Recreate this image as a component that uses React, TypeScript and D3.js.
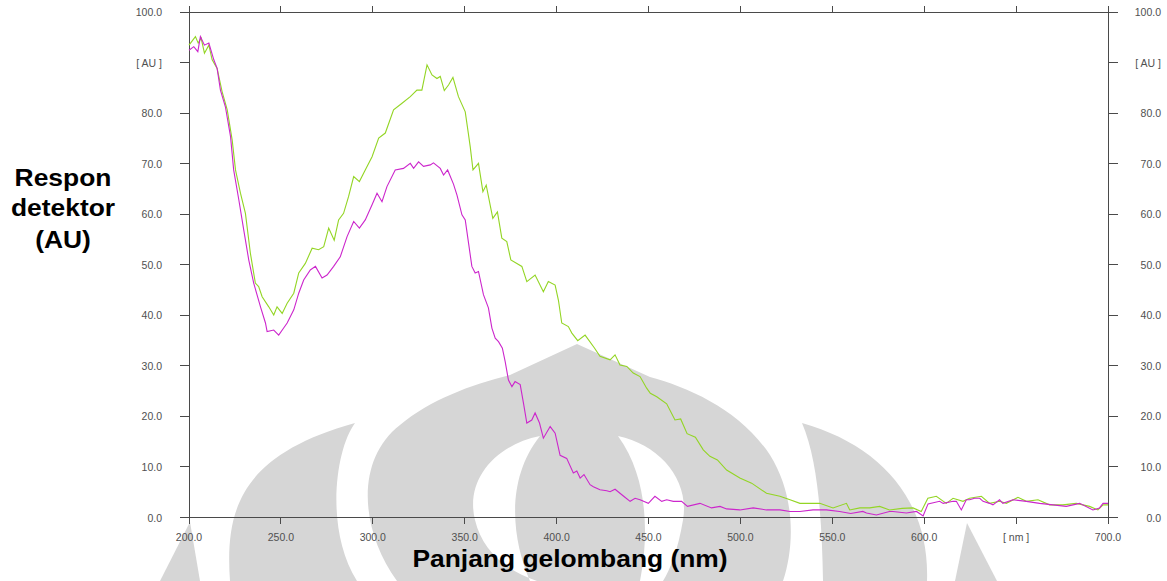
import React, { useRef, useEffect } from "react";
import * as d3 from "d3";

// wavelength (nm) vs detector response (AU)
const limeSeries: [number, number][] = [
  [200, 93.5], [203.5, 95.2], [205, 93.9], [206.6, 94.9], [208.4, 91.9], [210.8, 93.5],
  [212.6, 90.6], [215.3, 88.9], [218, 84.3], [220.8, 80.7], [223.5, 74.7], [225.3, 68.8],
  [228, 64.2], [230.7, 60.2], [233.4, 52.3], [236.1, 46.4], [237.9, 45.7], [239.8, 43.7],
  [243.4, 41.7], [246.1, 40.1], [247.9, 41.7], [250.7, 40.4], [253.4, 42.4], [257, 44.4],
  [259.7, 48.4], [263.3, 50.3], [267, 53.3], [270.5, 53.0], [273.3, 53.6], [276, 57.3],
  [279, 54.9], [281.4, 58.9], [284.1, 60.2], [286.8, 63.5], [289.6, 67.5], [292.7, 66.5],
  [295.9, 68.8], [299.6, 71.4], [303.2, 75.1], [306.8, 76.1], [311.3, 80.7], [315.9, 82.0],
  [320.4, 83.3], [324, 84.6], [326.7, 84.6], [329.5, 89.6], [332.2, 87.6], [334.9, 86.9],
  [336.7, 87.3], [338.9, 84.5], [341.2, 85.6], [343.6, 87.1], [346.6, 83.3], [350.3, 80.3],
  [352, 76], [353, 73.4], [354.5, 68.8], [357.5, 70.1], [359.9, 64.5], [361.7, 65.8],
  [365.3, 59.2], [367.8, 60.5], [370.2, 55.3], [372.9, 54.6], [375.1, 51.0], [381.1, 49.7],
  [383.8, 46.7], [388.3, 48.0], [392.8, 44.7], [395.5, 46.7], [399.2, 46.0], [401, 43],
  [402.8, 38.5], [406.4, 37.8], [408.3, 36.5], [411.5, 35], [415.5, 36.1], [420.5, 33.6],
  [423.6, 31.9], [429.1, 31.2], [431.8, 32.2], [434.5, 30.2], [438.2, 29.9], [441.7, 28.6],
  [445.4, 27.9], [449, 25.6], [451, 24.6], [454.5, 23.9], [459.9, 22.5], [464.4, 19.3],
  [467.5, 19.5], [471, 16.6], [475.5, 15.9], [479.8, 13.4], [483.4, 12.1], [487.5, 11.4],
  [492.5, 9.4], [499.7, 7.8], [506.1, 6.8], [514.2, 4.8], [521.5, 4.2], [527, 3.5],
  [532.4, 2.8], [543.2, 2.8], [550.4, 1.9], [557.7, 2.8], [559.5, 1.5], [565, 1.9],
  [570.3, 1.9], [575.8, 2.2], [581.1, 1.5], [588, 1.8], [593.9, 1.9], [598.4, 1.2],
  [602, 3.8], [606.6, 4.2], [612, 2.8], [615.7, 3.8], [621.1, 3.2], [624.7, 3.8],
  [631.1, 4.2], [635.6, 2.8], [641, 3.2], [644.7, 2.8], [651, 4.0], [655.6, 3.2],
  [661.9, 3.5], [668.2, 2.5], [675.4, 2.5], [682.7, 2.8], [690, 2.2], [694.5, 1.5],
  [697.3, 2.5], [700, 2.5],
];

const magentaSeries: [number, number][] = [
  [200, 92.5], [202.6, 93.2], [204.8, 92.2], [206.2, 95.2], [208.4, 93.5], [210.8, 93.9],
  [213.5, 90.6], [215.3, 88.9], [217.1, 84.6], [219.8, 81.3], [222.6, 75.4], [224.3, 68.8],
  [227.1, 62.9], [229.8, 56.9], [232.5, 51.0], [235.2, 46.4], [238.9, 41.7], [241.6, 38.5],
  [242.5, 36.8], [246.1, 37.1], [248.8, 36.1], [251.5, 37.5], [253.4, 38.5], [257, 41.1],
  [259.7, 44.4], [262.4, 47.0], [266, 49.0], [268.8, 49.7], [272.4, 47.4], [275.1, 48.0],
  [278.7, 49.7], [282.3, 51.6], [286, 55.6], [289.6, 58.6], [292.7, 57.3], [295.9, 58.9],
  [299.6, 61.9], [302.3, 64.2], [305, 62.5], [307.7, 65.5], [312.2, 68.8], [316.7, 69.1],
  [320.4, 70.1], [322.2, 69.1], [324.9, 70.4], [327.6, 69.5], [331.3, 69.8], [333, 70.2],
  [336.7, 69.1], [338.5, 67.8], [340.7, 68.8], [343.9, 66], [345.8, 63.8], [348.5, 59.9],
  [350.3, 58.9], [352.1, 54.3], [353.9, 49.7], [355.7, 48.4], [357.5, 48.7], [360.2, 44.1],
  [362.9, 41.5], [364.8, 37.5], [366.6, 35.5], [368.4, 34.8], [370.5, 33.5], [372, 30.9],
  [373.8, 27.2], [375.7, 25.9], [377.4, 26.9], [380.2, 26.3], [382, 22.6], [383.8, 18.7],
  [386.5, 19.3], [388.3, 20.7], [390.7, 18.7], [392.8, 15.7], [396.5, 18.0], [399.2, 16.7],
  [401.9, 12.3], [405.5, 11.7], [409.1, 8.8], [411, 9.2], [412.8, 7.8], [414.9, 8.5],
  [418.2, 6.5], [420, 6.1], [423.6, 5.5], [427.3, 5.3], [429.1, 5.1], [431.8, 5.6],
  [436.5, 4.2], [440, 3.2], [442.7, 3.8], [445.4, 3.5], [449.9, 2.8], [453.5, 4.2],
  [457.2, 3.2], [459.9, 3.5], [463.5, 3.2], [468, 3.2], [471.2, 2.2], [478, 2.8],
  [484.3, 1.9], [488.9, 2.2], [492.5, 1.7], [499.7, 1.5], [507, 1.9], [514.2, 1.5],
  [521.5, 1.5], [527, 1.2], [532.3, 1.2], [539.5, 1.5], [546.8, 1.5], [554, 1.2],
  [560, 0.8], [566.6, 1.2], [568.6, 0.9], [574, 0.5], [581.1, 1.2], [583, 1.2],
  [590.3, 0.9], [595.8, 1.2], [599.4, 0.3], [602.1, 2.7], [608.4, 3.2], [610.3, 2.8],
  [615.7, 3.2], [617.5, 3.2], [620.2, 1.5], [622.9, 3.5], [624.7, 3.5], [627.4, 3.8],
  [630.2, 3.8], [632, 3.2], [635.6, 2.8], [637.4, 2.5], [641, 3.5], [642.8, 2.8],
  [648.3, 3.5], [655.6, 3.2], [662.8, 2.8], [670.1, 2.5], [677.3, 2.2], [684.6, 2.8],
  [691.8, 1.5], [695.4, 1.9], [697.3, 2.8], [700, 2.8],
];

const xTicks = [200, 250, 300, 350, 400, 450, 500, 550, 600, 650, 700];
const xTickLabels = ["200.0", "250.0", "300.0", "350.0", "400.0", "450.0", "500.0", "550.0", "600.0", "[ nm ]", "700.0"];
const yTicks = [0, 10, 20, 30, 40, 50, 60, 70, 80, 90, 100];
const yTickLabels = ["0.0", "10.0", "20.0", "30.0", "40.0", "50.0", "60.0", "70.0", "80.0", "[ AU ]", "100.0"];

// faint logo watermark behind the plot
const watermarkGray = [
  "M160,581 L190,522 L200,581 Z",
  "M955,581 L967,523 L997,581 Z",
  "M230,581 C225,510 240,455 355,423 C335,450 325,530 357,581 Z",
  "M397,581 C360,530 355,460 400,425 C430,400 470,385 510,375 L577,344 L650,377 C690,388 740,410 770,455 C795,495 795,545 783,581 Z",
  "M802,423 C880,445 930,500 927,581 L823,581 C822,520 818,460 802,423 Z",
];
const watermarkHoles = [
  "M540,436 C495,445 465,480 475,520 C482,550 505,570 537,581 L530,581 C512,540 505,480 540,436 Z",
  "M618,436 C660,445 690,480 683,520 C678,550 670,570 663,581 L640,581 C648,540 650,480 618,436 Z",
];

export default function App() {
  const ref = useRef<SVGSVGElement>(null);

  useEffect(() => {
    const width = 1167;
    const height = 581;
    const svg = d3.select(ref.current);
    svg.selectAll("*").remove();
    svg.attr("width", width).attr("height", height);

    const x = d3.scaleLinear().domain([200, 700]).range([189, 1108]);
    const y = d3.scaleLinear().domain([0, 100]).range([517.5, 12.3]);
    const axisColor = "#4a4a4a";
    const font = "Arial, 'Liberation Sans', sans-serif";

    svg.append("rect").attr("width", width).attr("height", height).attr("fill", "#fff");

    // watermark
    svg.selectAll("path.wm").data(watermarkGray).enter().append("path")
      .attr("class", "wm").attr("d", (d) => d).attr("fill", "#d6d6d6");
    svg.selectAll("path.hole").data(watermarkHoles).enter().append("path")
      .attr("class", "hole").attr("d", (d) => d).attr("fill", "#fff");

    const g = svg.append("g").attr("stroke", axisColor).attr("stroke-width", 1).attr("shape-rendering", "crispEdges");
    const [x0, x1] = x.range();
    // frame
    g.append("line").attr("x1", 180).attr("x2", 1118).attr("y1", y(100)).attr("y2", y(100));
    g.append("line").attr("x1", 180).attr("x2", x1).attr("y1", y(0)).attr("y2", y(0));
    g.append("line").attr("x1", x0).attr("x2", x0).attr("y1", 7).attr("y2", y(0));
    g.append("line").attr("x1", x1).attr("x2", x1).attr("y1", 7).attr("y2", y(0));

    // y ticks both sides
    yTicks.forEach((t) => {
      g.append("line").attr("x1", 180).attr("x2", x0).attr("y1", y(t)).attr("y2", y(t));
      g.append("line").attr("x1", x1).attr("x2", 1118).attr("y1", y(t)).attr("y2", y(t));
    });
    // x ticks top and bottom
    xTicks.forEach((t) => {
      g.append("line").attr("x1", x(t)).attr("x2", x(t)).attr("y1", y(0)).attr("y2", y(0) + 6);
      g.append("line").attr("x1", x(t)).attr("x2", x(t)).attr("y1", y(100) - 6).attr("y2", y(100));
    });

    const labels = svg.append("g").attr("font-family", font).attr("font-size", 10.5).attr("fill", "#505050");
    yTicks.forEach((t, i) => {
      labels.append("text").attr("x", 162).attr("y", y(t) + 4).attr("text-anchor", "end").text(yTickLabels[i]);
      labels.append("text").attr("x", 1161).attr("y", y(t) + 4).attr("text-anchor", "end").text(yTickLabels[i]);
    });
    xTicks.forEach((t, i) => {
      labels.append("text").attr("x", x(t)).attr("y", 541).attr("text-anchor", "middle").text(xTickLabels[i]);
    });

    // spectra
    const line = d3.line<[number, number]>().x((d) => x(d[0])).y((d) => y(d[1]));
    svg.append("path").datum(limeSeries).attr("d", line).attr("fill", "none")
      .attr("stroke", "#93d524").attr("stroke-width", 1.1);
    svg.append("path").datum(magentaSeries).attr("d", line).attr("fill", "none")
      .attr("stroke", "#cc26cc").attr("stroke-width", 1.1);

    // titles (source image is stretched ~1.1 horizontally)
    svg.append("text").attr("transform", "translate(570,567) scale(1.1,1)")
      .attr("text-anchor", "middle").attr("font-family", font).attr("font-weight", "bold")
      .attr("font-size", 24).attr("fill", "#000").text("Panjang gelombang (nm)");
    const yTitle = svg.append("g").attr("font-family", font).attr("font-weight", "bold")
      .attr("font-size", 24).attr("fill", "#000").attr("text-anchor", "middle");
    [["Respon", 186], ["detektor", 216], ["(AU)", 248]].forEach(([s, b]) => {
      yTitle.append("text").attr("transform", `translate(63,${b}) scale(1.1,1)`).text(s as string);
    });
  }, []);

  return <svg ref={ref} style={{ position: "absolute", left: 0, top: 0 }}></svg>;
}
